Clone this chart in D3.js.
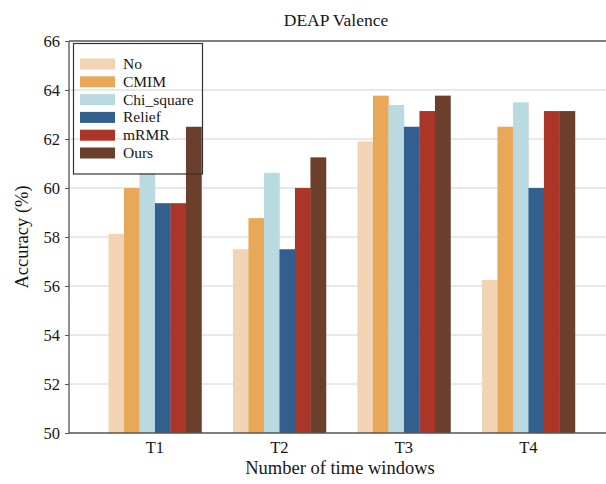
<!DOCTYPE html>
<html>
<head>
<meta charset="utf-8">
<script src="https://cdn.jsdelivr.net/npm/d3@7"></script>
<style>
  html, body { margin: 0; padding: 0; background: #fff; }
  svg { display: block; }
  svg text { font-family: "Liberation Serif", "Times New Roman", serif !important; fill: #161616; }
</style>
</head>
<body>
<svg id="chart" width="606" height="484"></svg>
<script>
// Time-window groups along the x axis
const categories = ["T1", "T2", "T3", "T4"];
// Feature-selection methods (one bar per method in each group)
const methods = ["No", "CMIM", "Chi_square", "Relief", "mRMR", "Ours"];
const colors = ["#f2d3b4", "#e9a857", "#b9dae0", "#335f8e", "#ab3527", "#6b3f2b"];
// Accuracy (%) per method, ordered T1..T4
const noSel     = [58.13, 57.5, 61.9, 56.25];
const cmim      = [60.0, 58.77, 63.77, 62.5];
const chiSquare = [60.6, 60.62, 63.39, 63.5];
const relief    = [59.38, 57.5, 62.5, 60.0];
const mrmr      = [59.38, 60.0, 63.14, 63.14];
const ours      = [62.5, 61.25, 63.77, 63.14];
const yTicks = [50, 52, 54, 56, 58, 60, 62, 64, 66];

const seriesValues = [noSel, cmim, chiSquare, relief, mrmr, ours];

const svg = d3.select("#chart");
const plotLeft = 69, plotTop = 41, plotBottom = 433, plotRight = 614.4;

const x = d3.scaleBand().domain(categories).range([plotLeft, plotRight])
  .paddingInner(0.253).paddingOuter(0.317);
const xInner = d3.scaleBand().domain(methods).range([0, x.bandwidth()]).padding(0);
const y = d3.scaleLinear().domain([50, 66]).range([plotBottom, plotTop]);

// horizontal gridlines
svg.append("g").selectAll("line").data(yTicks.slice(1, -1)).join("line")
  .attr("x1", plotLeft).attr("x2", 606)
  .attr("y1", d => y(d)).attr("y2", d => y(d))
  .attr("stroke", "#d2d2d2").attr("stroke-width", 1);

// bars
const rows = categories.map((c, i) => ({ cat: c, vals: methods.map((m, j) => ({ m, j, v: seriesValues[j][i] })) }));
svg.append("g").selectAll("g").data(rows).join("g")
  .attr("transform", d => `translate(${x(d.cat)},0)`)
  .selectAll("rect").data(d => d.vals).join("rect")
  .attr("x", d => xInner(d.m))
  .attr("width", xInner.bandwidth() + 0.3)
  .attr("y", d => y(d.v))
  .attr("height", d => y(50) - y(d.v))
  .attr("fill", d => colors[d.j]);

// y axis
const yAxis = d3.axisLeft(y).tickValues(yTicks).tickSize(4).tickPadding(5).tickFormat(d3.format("d"));
const gy = svg.append("g").attr("transform", `translate(${plotLeft},0)`).call(yAxis);
gy.select(".domain").remove();
gy.selectAll(".tick line").attr("stroke", "#555").attr("stroke-width", 1);
gy.selectAll(".tick text").attr("font-size", 16.5);

// x axis labels
const xAxis = d3.axisBottom(x).tickSize(0).tickPadding(8);
const gx = svg.append("g").attr("transform", `translate(0,${plotBottom})`).call(xAxis);
gx.select(".domain").remove();
gx.selectAll(".tick text").attr("font-size", 16.5);

// frame: left, top, bottom spines
const spine = svg.append("g").attr("stroke", "#555").attr("stroke-width", 1.3).attr("fill", "none");
spine.append("line").attr("x1", plotLeft).attr("x2", plotLeft).attr("y1", plotTop).attr("y2", plotBottom);
spine.append("line").attr("x1", plotLeft).attr("x2", 606).attr("y1", plotTop).attr("y2", plotTop);
spine.append("line").attr("x1", plotLeft).attr("x2", 606).attr("y1", plotBottom).attr("y2", plotBottom);

// title and axis titles
svg.append("text").attr("x", 336).attr("y", 26).attr("text-anchor", "middle")
  .attr("font-size", 17.5).text("DEAP Valence");
svg.append("text").attr("x", 340).attr("y", 474).attr("text-anchor", "middle")
  .attr("font-size", 18.5).text("Number of time windows");
svg.append("text").attr("transform", "translate(28,237) rotate(-90)").attr("text-anchor", "middle")
  .attr("font-size", 18.5).text("Accuracy (%)");

// legend (transparent with a thin frame)
const lg = svg.append("g");
lg.append("rect").attr("x", 73.5).attr("y", 43.5).attr("width", 129).attr("height", 130.5)
  .attr("fill", "none").attr("stroke", "#333").attr("stroke-width", 1.2);
const item = lg.selectAll("g.item").data(methods).join("g").attr("class", "item")
  .attr("transform", (d, i) => `translate(0,${64 + i * 17.8})`);
item.append("rect").attr("x", 80).attr("y", -5.5).attr("width", 35).attr("height", 11)
  .attr("fill", (d, i) => colors[i]);
item.append("text").attr("x", 123).attr("y", 5).attr("font-size", 15.5).text(d => d);
</script>
</body>
</html>
